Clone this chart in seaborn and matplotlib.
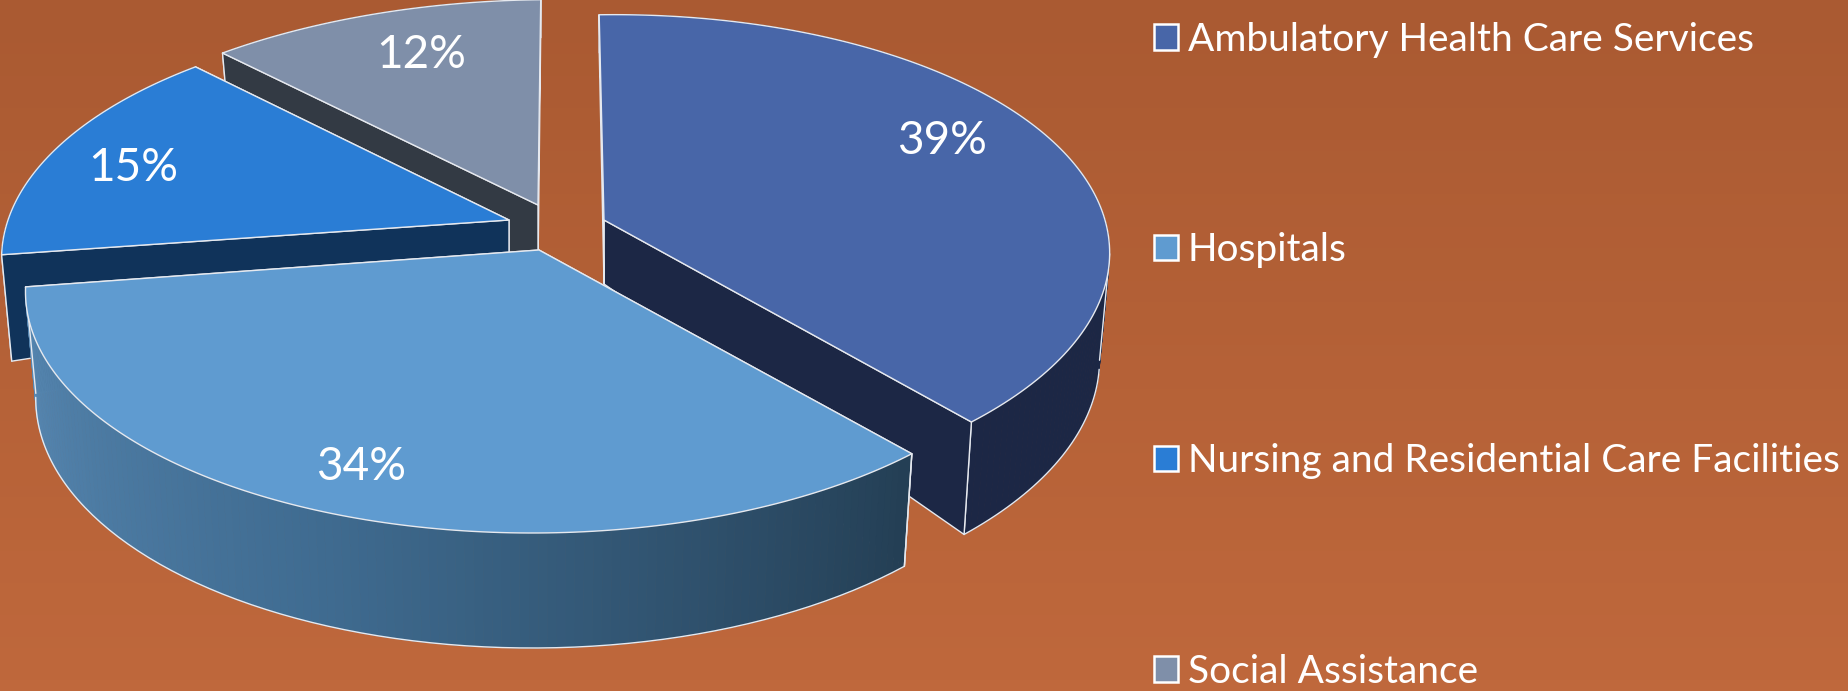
import numpy as np
import seaborn as sns
import matplotlib.pyplot as plt
from matplotlib.patches import Patch, Polygon

sectors = ["Ambulatory Health Care Services", "Hospitals",
           "Nursing and Residential Care Facilities", "Social Assistance"]
shares = [39, 34, 15, 12]

top_colors = ["#4866a8", "#5f9bd0", "#2a7dd5", "#7f8fa9"]
wall_colors = ["#1c2745", "#243f55", "#10335a", "#333a44"]
bg_colors = ["#aa5a32", "#bf683c"]
rim_shades = ["#5889b4", "#3f6b90", "#243f55"]
edge = "#e6e9ef"

# layout of the exploded pie, in pixels of the picture
apex_x = [604, 539, 509, 538]
apex_y = [220, 250, 220, 205]
skew = [-0.05, -0.025, 0.0, -0.07]
widen = [1.0, 1.01, 1.0, 1.03]
rotation = [-2.0, -1.5, -1.0, -1.5]
label_x = [942, 361, 133, 421]
label_y = [141, 467, 168, 55]
RX, RY, PERSP = 501, 238, 0.159
APEX_DEPTH = 64
BOTTOM_SCALE = 0.98


def rim(deg, i):
    t = np.radians(deg + rotation[i])
    sx, cy = np.sin(t), np.cos(t)
    d = 1 + PERSP * cy
    yy = -RY * cy / d
    xx = RX * widen[i] * sx / d + skew[i] * yy
    depth = np.where(cy > 0, 105 - 67 * cy ** 2, 105 - 10 * cy)
    top = np.column_stack([apex_x[i] + xx, apex_y[i] + yy])
    bottom = np.column_stack([apex_x[i] + BOTTOM_SCALE * xx, apex_y[i] + yy + depth])
    return top, bottom, cy


sns.set_theme(style="white")
plt.rcParams["font.family"] = ["Lato", "DejaVu Sans"]

fig = plt.figure(figsize=(18.49, 6.91), dpi=100)
ax = fig.add_axes([0, 0, 1, 1])
ax.set_xlim(0, 1849)
ax.set_ylim(691, 0)
ax.axis("off")

grad = np.array(sns.blend_palette(bg_colors, 64))[:, None, :]
ax.imshow(grad, extent=(0, 1849, 691, 0), aspect="auto", zorder=0)

edges = np.cumsum([0] + shares) / sum(shares) * 360
z = 1


def poly(pts, fc, ec=edge, lw=1.0):
    global z
    ax.add_patch(Polygon(pts, closed=True, fc=fc, ec=ec, lw=lw, zorder=z, joinstyle="round"))
    z += 1


def wall(i, deg):
    top, bottom, _ = rim(np.array([deg]), i)
    apex_t = [apex_x[i], apex_y[i]]
    apex_b = [apex_x[i], apex_y[i] + APEX_DEPTH]
    poly([apex_t, top[0], bottom[0], apex_b], wall_colors[i])


def side_line(p, q):
    ax.plot([p[0], q[0]], [p[1], q[1]], color=edge, lw=1.0, zorder=z)


# back to front
for i in [3, 2, 0, 1]:
    a0, a1 = edges[i], edges[i + 1]
    start_front = np.sin(np.radians(a0)) <= 1e-6
    end_front = np.sin(np.radians(a1)) > 1e-6

    if not end_front:
        wall(i, a1)
    if not start_front:
        wall(i, a0)

    # outer side of the slice, as thin strips
    degs = np.linspace(a0, a1, 140)
    top, bottom, cy = rim(degs, i)
    if i == 1:
        shades = sns.blend_palette(rim_shades, len(degs) - 1)
        # light on the left, dark on the right
        order = np.argsort(np.argsort(top[:-1, 0]))
        strip_colors = [shades[k] for k in order]
    else:
        strip_colors = [wall_colors[i]] * (len(degs) - 1)
    for k, c in enumerate(strip_colors):
        poly([top[k], top[k + 1], bottom[k + 1], bottom[k]], c, ec=c, lw=0.6)

    # lower outline only where it faces the viewer
    front = cy < -PERSP
    ax.plot(bottom[front, 0], bottom[front, 1], color=edge, lw=1.0, zorder=z)
    side_line(top[0], bottom[0])
    side_line(top[-1], bottom[-1])
    widest = np.argmax(top[:, 0])
    side_line(top[widest], bottom[widest])
    z += 1

    if end_front:
        wall(i, a1)
    if start_front:
        wall(i, a0)

    poly(np.vstack([[apex_x[i], apex_y[i]], top]), top_colors[i])

for i, v in enumerate(shares):
    ax.text(label_x[i], label_y[i], f"{v}%", color="white", fontsize=33,
            ha="center", va="center", zorder=z + 1)

handles = [Patch(fc=c, ec="white", lw=1.8) for c in top_colors]
ax.legend(handles, sectors, loc="upper left", bbox_to_anchor=(1132 / 1849, 1.0),
          frameon=False, fontsize=28, labelcolor="white", labelspacing=4.49,
          handlelength=0.62, handleheight=0.62, handletextpad=0.25, borderpad=0.56,
          borderaxespad=0).set_zorder(z + 1)

fig.savefig("out.png", dpi=100)
